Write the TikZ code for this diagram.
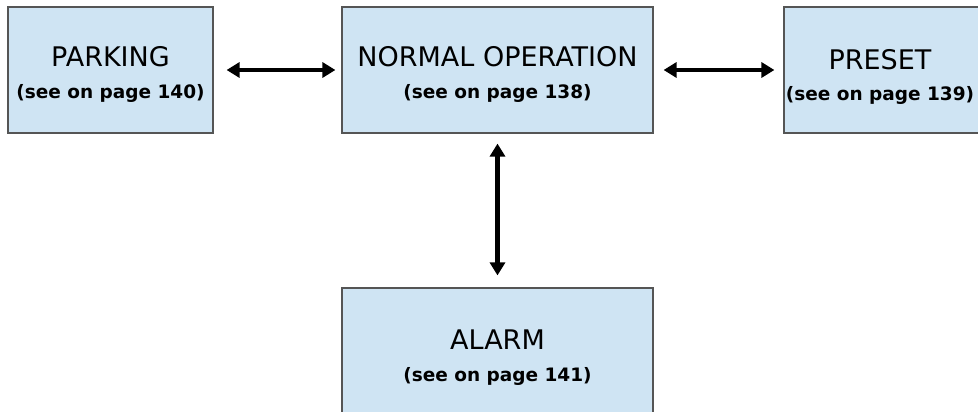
\documentclass[tikz,border=0pt]{standalone}
\usepackage{fontspec}
\setmainfont{DejaVu Sans}
\usetikzlibrary{arrows.meta}
\definecolor{boxfill}{RGB}{207,228,243}
\definecolor{boxline}{RGB}{85,85,85}
\begin{document}
\begin{tikzpicture}[x=1pt,y=1pt,
  statebox/.style={draw=boxline, fill=boxfill, line width=1.2pt, inner sep=0pt, minimum height=126pt},
  titletext/.style={font=\fontsize{27}{32}\selectfont, anchor=base, inner sep=0pt},
  subtext/.style={font=\fontsize{18.5}{22}\selectfont\bfseries, anchor=base, inner sep=0pt},
  biarrow/.style={line width=4.5pt, {Triangle[length=13pt,width=15pt]}-{Triangle[length=13pt,width=15pt]}}]
\useasboundingbox (0,0) rectangle (978,-412);
% boxes
\node[statebox, minimum width=205pt] (park) at (110.5,-70) {};
\node[statebox, minimum width=311pt] (norm) at (497.5,-70) {};
\node[statebox, minimum width=196pt] (pres) at (882,-70) {};
\node[statebox, minimum width=311pt] (alarm) at (497.5,-351) {};
% texts
\node[titletext] (parkT) at ([yshift=-60pt]park.north) {PARKING};
\node[subtext] (parkS) at ([yshift=-92pt]park.north) {(see on page 140)};
\node[titletext] (normT) at ([yshift=-60pt]norm.north) {NORMAL OPERATION};
\node[subtext] (normS) at ([yshift=-92pt]norm.north) {(see on page 138)};
\node[titletext] (presT) at ([yshift=-63pt,xshift=-2pt]pres.north) {PRESET};
\node[subtext] (presS) at ([yshift=-94pt,xshift=-2pt]pres.north) {(see on page 139)};
\node[titletext] (alarmT) at ([yshift=-62pt]alarm.north) {ALARM};
\node[subtext] (alarmS) at ([yshift=-94pt]alarm.north) {(see on page 141)};
% connectors
\draw[biarrow, shorten <=13pt, shorten >=6pt] (park.east) -- (norm.west);
\draw[biarrow, shorten <=10pt, shorten >=9pt] (norm.east) -- (pres.west);
\draw[biarrow, shorten <=10pt, shorten >=12pt] (norm.south) -- (alarm.north);
\end{tikzpicture}
\end{document}
